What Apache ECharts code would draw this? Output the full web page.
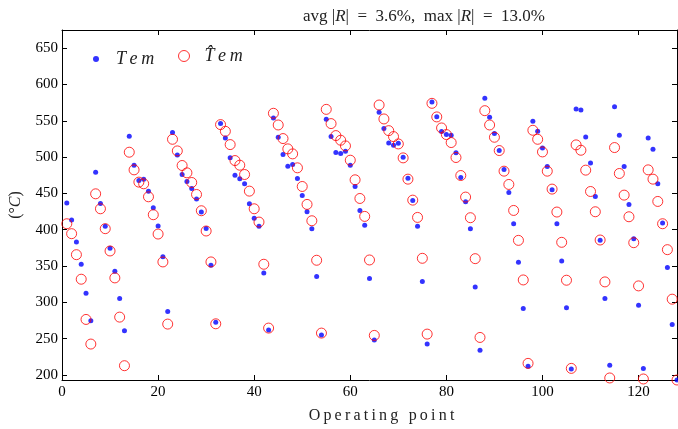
<!doctype html>
<html>
<head>
<meta charset="utf-8">
<title>Tem</title>
<style>
  html, body { margin: 0; padding: 0; background: #fff; }
  #chart { width: 678px; height: 429px; }
</style>
</head>
<body>
<div id="chart"></div>
<script src="https://cdn.jsdelivr.net/npm/echarts@6/dist/echarts.min.js"></script>
<script>
// measured Tem (blue dots), operating points 1..128
var temMeas = [
  436.6, 413.3, 383, 352.4, 312.5, 274.5,
  479.2, 436.2, 404.6, 374.3, 342.7, 305.2, 260.8,
  528.7, 488.8, 467.8, 469.6, 453.1, 430.2, 405, 362.9, 287.3,
  533.7, 503, 476, 466.4, 456.8, 442.1, 424.3, 401.8, 351, 272.7,
  546.1, 526.4, 498.9, 475.1, 470, 463.2, 435.7, 415.6, 404.6, 340.5, 261.7,
  553.8, 527.3, 503.5, 487.4, 489.7, 470.5, 447.2, 424.7, 401.4, 335.4, 254.8,
  552, 528.2, 506.2, 504.8, 508, 488.8, 459.5, 426.5, 406, 332.7, 248,
  561.6, 539.2, 519.5, 516.3, 519, 499.8, 471, 440.3, 404.6, 328.6, 242.5,
  575.8, 555.7, 535.1, 531, 530, 505.8, 471.9, 438.5, 401.4, 321.2, 233.8,
  580.9, 554.8, 532.3, 509, 482.9, 451.3, 408.2, 355.1, 291.5, 211.8,
  549.3, 535.5, 512.6, 487, 454.9, 408.2, 357, 292.4, 208.1,
  566.2, 564.8, 527.7, 492, 445.8, 385.3, 305.2, 213.2,
  569.4, 530, 487, 434.8, 387.6, 296, 209,
  526.4, 510.8, 463.2, 409.1, 347.8, 269.5, 193
];
// estimated Tem (red circles)
var temEst = [
  408.2, 394.5, 365.6, 331.8, 276.4, 242.5,
  449.4, 428.8, 401.4, 370.7, 333.6, 279.6, 212.7,
  506.7, 482.4, 465.5, 463.2, 445.3, 420.6, 394, 355.6, 270,
  524.5, 508.5, 488.4, 478.3, 465, 448.5, 426.1, 398.2, 355.6, 270.4,
  544.7, 535.5, 517.2, 495.2, 488.8, 476, 453.1, 428.8, 410.5, 352.4, 264.5,
  560.3, 544.2, 525.5, 511.3, 504.4, 485.2, 459.5, 434.8, 412.3, 357.9, 257.6,
  565.7, 546.1, 529.6, 523.2, 515.4, 495.7, 468.7, 443, 418.3, 358.3, 254.4,
  571.7, 552.5, 536.4, 528.2, 518.1, 498.9, 469.6, 440.7, 416.9, 360.6, 256.2,
  574, 555.3, 540.1, 531, 520, 499.4, 474.6, 444.9, 416.5, 360.1, 251.6,
  563.9, 544.2, 527.3, 509, 480.6, 462.3, 426.5, 385.3, 330.8, 215.9,
  536.9, 524.5, 507.1, 480.6, 455.9, 424.3, 382.6, 330.4, 209,
  516.8, 509.4, 482, 452.6, 424.7, 385.8, 328.1, 195.8,
  513.1, 477.4, 447.6, 417.8, 382.1, 322.6, 194.4,
  482.4, 469.6, 438.9, 408.2, 372.5, 304.3, 193
];
var xTicks = [0, 20, 40, 60, 80, 100, 120];
var yTicks = [200, 250, 300, 350, 400, 450, 500, 550, 600, 650];

var serif = 'Liberation Serif';
var chart = echarts.init(document.getElementById('chart'));

function pts(arr) {
  return arr.map(function (v, i) { return [i + 1, v]; });
}
// thin spaces between letters, keeping combining marks with their base letter
function spaced(s) {
  return s.replace(/([^\u0300-\u036f])(?=[^\u0300-\u036f])/g, '$1\u2009')
          .replace(/(\u0302)(?=.)/g, '$1\u2009');
}

var tick = {show: true, inside: true, length: 5, lineStyle: {color: '#000', width: 1}};
var line = {show: true, onZero: false, lineStyle: {color: '#000', width: 1}};

chart.setOption({
  animation: false,
  backgroundColor: '#fff',
  title: {
    text: 'avg |{i|R}|\u2002=\u20023.6%,  max |{i|R}|\u2002=\u200213.0%',
    left: 419,
    textAlign: 'center',
    top: 3,
    textStyle: {
      fontFamily: serif, fontSize: 17, fontWeight: 'normal', color: '#222',
      rich: {i: {fontFamily: serif, fontSize: 17, fontStyle: 'italic', color: '#222'}}
    }
  },
  legend: [{
    data: ['Tem'],
    left: 88, top: 45,
    itemWidth: 6, itemHeight: 6,
    icon: 'circle',
    formatter: spaced,
    textStyle: {fontFamily: serif, fontSize: 18, fontStyle: 'italic', color: '#222', padding: [0, 0, 0, 12]}
  }, {
    data: [{name: 'T\u0302em', icon: 'circle', itemStyle: {color: 'transparent', borderColor: '#ff0000', borderWidth: 1}}],
    left: 173, top: 42,
    itemWidth: 11, itemHeight: 11,
    formatter: spaced,
    textStyle: {fontFamily: serif, fontSize: 18, fontStyle: 'italic', color: '#222', padding: [0, 0, 0, 10]}
  }],
  grid: {left: 62, right: 1, top: 30, bottom: 49, containLabel: false, outerBoundsMode: 'none'},
  xAxis: [{
    type: 'value', min: 0, max: 128,
    name: spaced('Operating point'),
    nameLocation: 'middle', nameGap: 28,
    nameTextStyle: {fontFamily: serif, fontSize: 16, color: '#222', padding: [0, 0, 0, 24]},
    axisLine: line,
    axisTick: Object.assign({customValues: xTicks}, tick),
    axisLabel: {customValues: xTicks, fontFamily: serif, fontSize: 15, color: '#000', margin: 5},
    splitLine: {show: false}
  }, {
    type: 'value', min: 0, max: 128, position: 'top',
    axisLine: line,
    axisTick: Object.assign({customValues: xTicks}, tick),
    axisLabel: {show: false},
    splitLine: {show: false}
  }],
  yAxis: [{
    type: 'value', min: 193, max: 675,
    name: '(°{i|C})',
    nameLocation: 'middle', nameGap: 38, nameRotate: 90,
    nameTextStyle: {
      fontFamily: serif, fontSize: 16, color: '#222',
      rich: {i: {fontFamily: serif, fontSize: 16, fontStyle: 'italic', color: '#222'}}
    },
    axisLine: line,
    axisTick: Object.assign({customValues: yTicks}, tick),
    axisLabel: {customValues: yTicks, fontFamily: serif, fontSize: 15, color: '#000', margin: 4},
    splitLine: {show: false}
  }, {
    type: 'value', min: 193, max: 675, position: 'right',
    axisLine: line,
    axisTick: Object.assign({customValues: yTicks}, tick),
    axisLabel: {show: false},
    splitLine: {show: false}
  }],
  series: [{
    name: 'Tem',
    type: 'scatter',
    symbol: 'circle',
    symbolSize: 5,
    itemStyle: {color: '#0000ff'},
    data: pts(temMeas)
  }, {
    name: 'T\u0302em',
    type: 'scatter',
    symbol: 'circle',
    symbolSize: 10,
    itemStyle: {color: 'transparent', borderColor: '#ff0000', borderWidth: 1},
    data: pts(temEst)
  }]
});
</script>
</body>
</html>
